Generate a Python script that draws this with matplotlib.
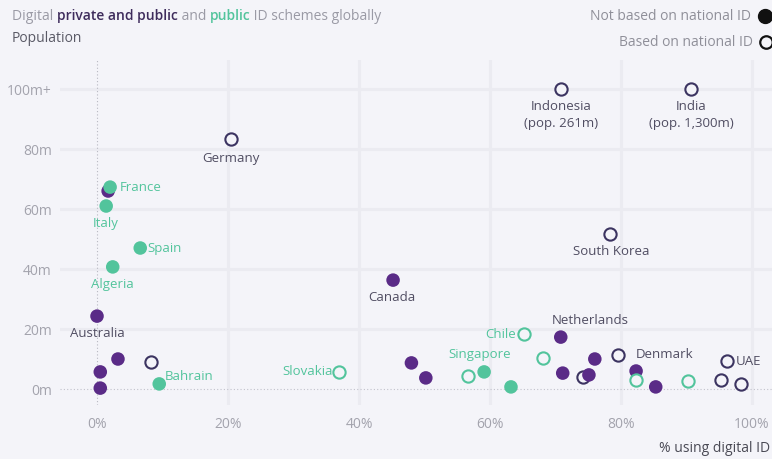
import matplotlib.pyplot as plt
from matplotlib.lines import Line2D

plt.rcParams['font.family'] = ['Open Sans', 'DejaVu Sans']

# schemes: label, % using digital ID, population (m), scheme type, national-ID based
names = ["France", "France", "Italy", "Spain", "Algeria", "Australia", "", "", "",
         "Germany", "", "Bahrain", "Slovakia", "Canada", "", "", "",
         "Singapore", "", "Chile", "", "Indonesia", "Netherlands", "", "", "",
         "South Korea", "", "Denmark", "", "", "India", "", "", "UAE", "", ""]
pct_digital = [1.7, 2.0, 1.4, 6.6, 2.4, 0.0, 0.5, 0.5, 3.2,
               20.5, 8.2, 9.5, 37.0, 45.2, 48.0, 50.2, 56.6,
               59.1, 63.2, 65.2, 68.1, 70.8, 70.8, 71.1, 74.2, 75.1,
               78.3, 76.0, 82.3, 79.5, 82.3, 90.7, 85.3, 90.2, 96.2, 95.3, 98.3]
population = [66.0, 67.3, 61.0, 47.0, 40.7, 24.3, 5.7, 0.3, 10.0,
              83.3, 9.0, 1.7, 5.7, 36.3, 8.7, 3.7, 4.3,
              5.7, 0.7, 18.3, 10.3, 261.0, 17.3, 5.3, 4.0, 4.7,
              51.7, 10.0, 6.0, 11.3, 3.0, 1300.0, 0.7, 2.7, 9.3, 3.0, 1.7]
scheme = ["pp", "pub", "pub", "pub", "pub", "pp", "pp", "pp", "pp",
          "pp", "pp", "pub", "pub", "pp", "pp", "pp", "pub",
          "pub", "pub", "pub", "pub", "pp", "pp", "pp", "pp", "pp",
          "pp", "pp", "pp", "pp", "pub", "pp", "pp", "pub", "pp", "pp", "pp"]
national_id = [False, False, False, False, False, False, False, False, False,
               True, True, False, True, False, False, False, True,
               False, False, True, True, True, False, False, True, False,
               True, False, False, True, True, True, False, True, True, True, True]

pop_cap = 100
x_ticks = [0, 20, 40, 60, 80, 100]
x_labels = ["0%", "20%", "40%", "60%", "80%", "100%"]
y_ticks = [0, 20, 40, 60, 80, 100]
y_labels = ["0m", "20m", "40m", "60m", "80m", "100m+"]

BG = "#f4f4f9"
GRID = "#ebebf1"
PURPLE = "#5a2b87"
PURPLE_EDGE = "#3c3461"
GREEN = "#52c49c"
LABEL = "#504d62"
TICK = "#a3a3ad"

# label placement: (dx, dy) in points, ha, va
label_pos = {
    "Germany": (0, -9, "center", "top"),
    "France": (7, 0, "left", "center"),
    "Italy": (0, -8, "center", "top"),
    "Spain": (5, 0, "left", "center"),
    "Algeria": (0, -8, "center", "top"),
    "Australia": (0, -8, "center", "top"),
    "Bahrain": (4, 5, "left", "center"),
    "Slovakia": (-5, 0, "right", "center"),
    "Singapore": (-3, 8, "center", "bottom"),
    "Chile": (-6, 0, "right", "center"),
    "Netherlands": (21, 7, "center", "bottom"),
    "Denmark": (0, 7, "left", "bottom"),
    "UAE": (6, 0, "left", "center"),
    "Canada": (-1, -8, "center", "top"),
    "South Korea": (1, -8, "center", "top"),
    "Indonesia": (0, -8, "center", "top"),
    "India": (0, -8, "center", "top"),
}

fig = plt.figure(figsize=(7.72, 4.59), dpi=100, facecolor=BG)
ax = fig.add_axes([60 / 772, 54 / 459, 712 / 772, 345 / 459], facecolor=BG)
ax.set_xlim(-5.65, 103.05)
ax.set_ylim(-5.33, 109.67)

for x in x_ticks[1:]:
    ax.axvline(x, color=GRID, lw=2.2, zorder=0)
for y in y_ticks[1:]:
    ax.axhline(y, color=GRID, lw=2.2, zorder=0)
ax.axvline(0, color="#b8b8c2", lw=0.8, ls=(0, (1, 2)), zorder=1)
ax.axhline(0, color="#c2c2cc", lw=0.8, ls=(0, (1, 2)), zorder=1)

for name, x, p, sc, nat in zip(names, pct_digital, population, scheme, national_id):
    y = min(p, pop_cap)
    col = PURPLE if sc == "pp" else GREEN
    if nat:
        edge = PURPLE_EDGE if sc == "pp" else GREEN
        ax.scatter(x, y, s=78, facecolors=BG, edgecolors=edge, linewidths=1.5,
                   zorder=3, clip_on=False)
    else:
        ax.scatter(x, y, s=95, color=col, edgecolors="none", zorder=3, clip_on=False)
    if name in label_pos and not (name == "France" and sc == "pp"):
        dx, dy, ha, va = label_pos[name]
        text = name
        if p > pop_cap:
            text = f"{name}\n(pop. {p:,.0f}m)"
        ax.annotate(text, (x, y), xytext=(dx, dy), textcoords="offset points",
                    ha=ha, va=va, fontsize=9.5, linespacing=1.35,
                    color=LABEL if sc == "pp" else GREEN, zorder=4)

ax.set_xticks(x_ticks, x_labels)
ax.set_yticks(y_ticks, y_labels)
ax.tick_params(length=0, labelsize=10, labelcolor=TICK)
ax.tick_params(axis="x", pad=9)
ax.tick_params(axis="y", pad=6)
for s in ax.spines.values():
    s.set_visible(False)

# title with coloured key words
renderer = fig.canvas.get_renderer()
x0 = 12 / 772
parts = [("Digital ", "#9a9aa5", "normal"),
         ("private and public", "#3e2c5c", "semibold"),
         (" and ", "#9a9aa5", "normal"),
         ("public", GREEN, "semibold"),
         (" ID schemes globally", "#9a9aa5", "normal")]
for txt, col, w in parts:
    t = fig.text(x0, 1 - 16 / 459, txt, color=col, fontweight=w, fontsize=10,
                 va="center", ha="left")
    bb = t.get_window_extent(renderer)
    x0 += bb.width / fig.bbox.width
fig.text(12 / 772, 1 - 38 / 459, "Population", color="#5a5a66", fontsize=10,
         va="center", ha="left")

# marker key, top right
fig.text(751 / 772, 1 - 16 / 459, "Not based on national ID", color="#8f8f99",
         fontsize=10, va="center", ha="right")
fig.text(753 / 772, 1 - 42 / 459, "Based on national ID", color="#8f8f99",
         fontsize=10, va="center", ha="right")
fig.add_artist(Line2D([765 / 772], [1 - 16 / 459], marker="o", ms=10,
                      color="#111111", transform=fig.transFigure))
fig.add_artist(Line2D([766 / 772], [1 - 42 / 459], marker="o", ms=9,
                      mfc=BG, mec="#111111", mew=1.6, transform=fig.transFigure))

fig.text(770 / 772, 1 - 448 / 459, "% using digital ID", color="#4a4a55",
         fontsize=10, va="center", ha="right")

fig.savefig("out.png", dpi=100, facecolor=BG)
